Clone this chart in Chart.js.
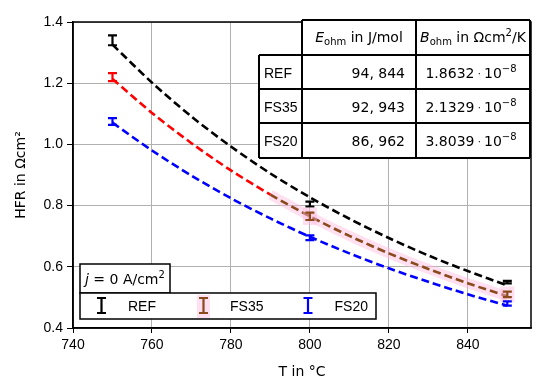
<!DOCTYPE html>
<html>
<head>
<meta charset="utf-8">
<script src="https://cdn.jsdelivr.net/npm/chart.js@4.4.0/dist/chart.umd.min.js"></script>
<style>
  html, body { margin: 0; padding: 0; background: #fff; }
  #wrap { width: 550px; height: 390px; }
</style>
</head>
<body>
<div id="wrap"><canvas id="myChart"></canvas></div>
<script>
// fitted curves (every 10 °C)
const fitT = [750, 760, 770, 780, 790, 800, 810, 820, 830, 840, 850];
const fitREF = [1.326, 1.202, 1.091, 0.993, 0.905, 0.827, 0.757, 0.694, 0.637, 0.586, 0.539];
const fitFS35 = [1.214, 1.103, 1.004, 0.915, 0.836, 0.765, 0.701, 0.644, 0.593, 0.546, 0.504];
const fitFS20 = [1.071, 0.980, 0.898, 0.824, 0.758, 0.698, 0.644, 0.595, 0.551, 0.510, 0.473];

// measured points with error bars
const measT = [750, 800, 850];
const measREF = [1.34, 0.805, 0.55];
const errREF = [0.016, 0.008, 0.004];
const measFS35 = [1.22, 0.765, 0.51];
const errFS35 = [0.013, 0.012, 0.009];
const measFS20 = [1.075, 0.695, 0.48];
const errFS20 = [0.011, 0.008, 0.007];

const xTicks = [740, 760, 780, 800, 820, 840];
const yTicks = [0.4, 0.6, 0.8, 1.0, 1.2, 1.4];

// table
const tableRows = ["REF", "FS35", "FS20"];
const eOhm = ["94, 844", "92, 943", "86, 962"];
const bOhm = ["1.8632", "2.1329", "3.8039"];
const legendLabels = ["REF", "FS35", "FS20"];

const BROWN = "#8b4a1c";
const PINK = "rgba(255, 185, 222, 0.45)";
const SANS = "'Liberation Sans', Arial, sans-serif";
const DJV = "'DejaVu Sans', sans-serif";

const pts = (ys, from = 0) => ys.slice(from).map((y, i) => ({ x: fitT[i + from], y }));

// little helper to write text made of pieces (sub/superscripts)
const pieces = (ctx, parts) =>
  parts.reduce((w, p) => {
    ctx.font = p.font;
    return w + ctx.measureText(p.t).width;
  }, 0);

const writePieces = (ctx, parts, x, y, align) => {
  const w = pieces(ctx, parts);
  let cx = align === "center" ? x - w / 2 : align === "right" ? x - w : x;
  ctx.textBaseline = "alphabetic";
  ctx.textAlign = "left";
  parts.forEach((p) => {
    ctx.font = p.font;
    ctx.fillText(p.t, cx, y + (p.dy || 0));
    cx += ctx.measureText(p.t).width;
  });
};

const errorBarIcon = (ctx, x, y1, y2, color, cap) => {
  ctx.strokeStyle = color;
  ctx.lineWidth = 2.2;
  ctx.beginPath();
  ctx.moveTo(x, y1);
  ctx.lineTo(x, y2);
  ctx.moveTo(x - cap, y1);
  ctx.lineTo(x + cap, y1);
  ctx.moveTo(x - cap, y2);
  ctx.lineTo(x + cap, y2);
  ctx.stroke();
};

const errorBars = {
  id: "errorBars",
  afterDatasetsDraw(chart) {
    const { ctx, scales } = chart;
    const series = [
      [measREF, errREF, "black"],
      [measFS35, errFS35, "red"],
      [measFS20, errFS20, "blue"],
    ];
    ctx.save();
    series.forEach(([ys, es, color], s) => {
      measT.forEach((t, i) => {
        const x = scales.x.getPixelForValue(t);
        const y1 = scales.y.getPixelForValue(ys[i] + es[i]);
        const y2 = scales.y.getPixelForValue(ys[i] - es[i]);
        let c = color;
        if (s === 1 && i > 0) {
          c = BROWN;
          ctx.fillStyle = PINK;
          ctx.fillRect(x - 7, Math.min(y1, y2) - 5, 14, Math.abs(y2 - y1) + 10);
        }
        errorBarIcon(ctx, x, y1, y2, c, 4.5);
      });
    });
    ctx.restore();
  },
};

const extras = {
  id: "extras",
  afterDraw(chart) {
    const { ctx, chartArea: a } = chart;
    ctx.save();
    // frame
    ctx.strokeStyle = "black";
    ctx.lineWidth = 1.5;
    ctx.strokeRect(a.left, a.top, a.right - a.left, a.bottom - a.top);

    // table
    const cx = [259, 302, 416, 530];
    const ry = [20, 55, 89, 123, 158];
    ctx.fillStyle = "white";
    ctx.fillRect(cx[1], ry[0], cx[3] - cx[1], ry[1] - ry[0]);
    ctx.fillRect(cx[0], ry[1], cx[3] - cx[0], ry[4] - ry[1]);
    ctx.strokeStyle = "black";
    ctx.lineWidth = 2;
    ctx.beginPath();
    ctx.moveTo(cx[1], ry[0]);
    ctx.lineTo(cx[3], ry[0]);
    for (let r = 1; r < ry.length; r++) {
      ctx.moveTo(cx[0], ry[r]);
      ctx.lineTo(cx[3], ry[r]);
    }
    ctx.moveTo(cx[0], ry[1]);
    ctx.lineTo(cx[0], ry[4]);
    for (let c = 1; c < cx.length; c++) {
      ctx.moveTo(cx[c], ry[0]);
      ctx.lineTo(cx[c], ry[4]);
    }
    ctx.stroke();

    ctx.fillStyle = "black";
    const f = `14px ${DJV}`;
    const it = `italic 14px ${DJV}`;
    const sub = `10px ${DJV}`;
    writePieces(ctx, [
      { t: "E", font: it },
      { t: "ohm", font: sub, dy: 3 },
      { t: " in J/mol", font: f },
    ], (cx[1] + cx[2]) / 2, 42, "center");
    writePieces(ctx, [
      { t: "B", font: it },
      { t: "ohm", font: sub, dy: 3 },
      { t: " in \u03A9cm", font: f },
      { t: "2", font: sub, dy: -6 },
      { t: "/K", font: f },
    ], (cx[2] + cx[3]) / 2, 42, "center");
    tableRows.forEach((name, r) => {
      const base = (ry[r + 1] + ry[r + 2]) / 2 + 5.5;
      ctx.font = `14px ${SANS}`;
      ctx.textAlign = "left";
      ctx.textBaseline = "alphabetic";
      ctx.fillText(name, cx[0] + 5, base);
      writePieces(ctx, [{ t: eOhm[r], font: f }], cx[2] - 11, base, "right");
      writePieces(ctx, [
        { t: bOhm[r], font: f },
        { t: " \u00B7 ", font: `10px ${DJV}`, dy: -1 },
        { t: "10", font: f },
        { t: "\u22128", font: sub, dy: -6 },
      ], (cx[2] + cx[3]) / 2 - 2, base, "center");
    });

    // j box
    ctx.fillStyle = "white";
    ctx.fillRect(80, 264, 90, 29);
    ctx.strokeStyle = "black";
    ctx.lineWidth = 1.5;
    ctx.strokeRect(80, 264, 90, 29);
    ctx.fillStyle = "black";
    writePieces(ctx, [
      { t: "j", font: it },
      { t: " = 0 A/cm", font: f },
      { t: "2", font: sub, dy: -6 },
    ], 85, 284, "left");

    // legend
    ctx.fillStyle = "white";
    ctx.fillRect(80, 293, 296, 26);
    ctx.strokeRect(80, 293, 296, 26);
    const lx = [101.5, 203.5, 308];
    const lc = ["black", BROWN, "blue"];
    legendLabels.forEach((lab, i) => {
      if (i === 1) {
        ctx.fillStyle = PINK;
        ctx.fillRect(lx[i] - 6.5, 295, 13, 23);
      }
      errorBarIcon(ctx, lx[i], 298, 313, lc[i], 4.5);
      ctx.fillStyle = "black";
      ctx.font = `14px ${SANS}`;
      ctx.textAlign = "left";
      ctx.textBaseline = "alphabetic";
      ctx.fillText(lab, lx[i] + 26.5, 311);
    });
    ctx.restore();
  },
};

const dashed = { borderWidth: 2.6, borderDash: [8, 4], pointRadius: 0, fill: false, tension: 0.3 };

const ctx = document.getElementById("myChart").getContext("2d");
const aChart = new Chart(ctx, {
  type: "line",
  data: {
    datasets: [
      { label: "REF", data: pts(fitREF), borderColor: "black", ...dashed },
      {
        label: "FS35",
        data: pts(fitFS35),
        borderColor: "red",
        segment: { borderColor: (c) => (c.p0.parsed.x >= 790 ? BROWN : "red") },
        ...dashed,
      },
      { label: "FS20", data: pts(fitFS20), borderColor: "blue", ...dashed },
      {
        label: "FS35 glow",
        data: pts(fitFS35, 4),
        borderColor: PINK,
        borderWidth: 10,
        pointRadius: 0,
        tension: 0.3,
        order: 10,
      },
    ],
  },
  options: {
    animation: false,
    responsive: true,
    maintainAspectRatio: false,
    layout: { padding: { left: 0, right: 19, top: 22, bottom: 0 } },
    plugins: { legend: { display: false }, tooltip: { enabled: false } },
    scales: {
      x: {
        type: "linear",
        min: 740,
        max: 856,
        afterBuildTicks: (axis) => (axis.ticks = xTicks.map((value) => ({ value }))),
        afterFit: (s) => (s.height = 62),
        grid: { color: "#b0b0b0", lineWidth: 1, tickColor: "black", tickLength: 5 },
        border: { color: "black", width: 1.5 },
        ticks: { color: "black", font: { family: SANS, size: 14 }, padding: 4 },
        title: {
          display: true,
          text: "T in \u00B0C",
          color: "black",
          font: { family: DJV, size: 14 },
          padding: { top: 2, bottom: 9 },
        },
      },
      y: {
        min: 0.4,
        max: 1.4,
        afterBuildTicks: (axis) => (axis.ticks = yTicks.map((value) => ({ value }))),
        afterFit: (s) => (s.width = 73),
        grid: { color: "#b0b0b0", lineWidth: 1, tickColor: "black", tickLength: 6 },
        border: { color: "black", width: 1.5 },
        ticks: {
          color: "black",
          font: { family: SANS, size: 14 },
          padding: 4,
          callback: (v) => v.toFixed(1),
        },
        title: {
          display: true,
          text: "HFR in \u03A9cm\u00B2",
          color: "black",
          font: { family: DJV, size: 14 },
          padding: { top: 13, bottom: 0 },
        },
      },
    },
  },
  plugins: [errorBars, extras],
});
</script>
</body>
</html>
